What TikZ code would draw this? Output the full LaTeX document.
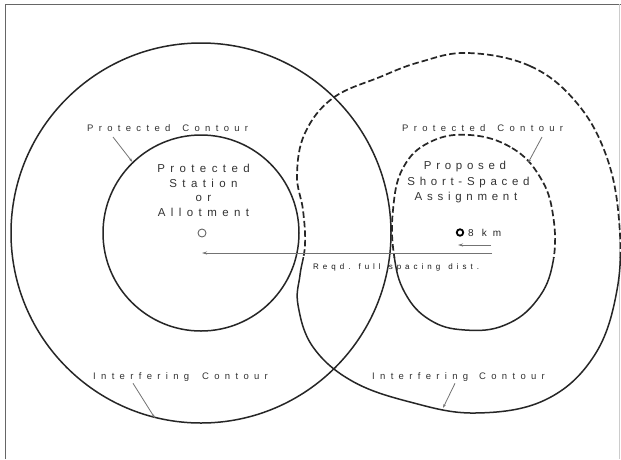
\documentclass[tikz,border=0pt]{standalone}
\usepackage{fontspec}
\setmainfont{Liberation Sans}
\usetikzlibrary{arrows.meta,calc}
\newcommand{\wgap}[1]{\hspace{#1}}
\begin{document}
\begin{tikzpicture}[x=1pt,y=-1pt,
  contour/.style={draw=black!85, line width=1.5pt},
  dcontour/.style={draw=black!85, line width=1.7pt, dash pattern=on 6.5pt off 3pt},
  arr/.style={draw=black!55, line width=0.8pt, -{Stealth[length=5pt,width=3pt]}},
  leader/.style={draw=black!55, line width=0.8pt, -{Stealth[length=4pt,width=2.5pt]}},
  lbl/.style={inner sep=0, text=black!80, anchor=base west,
    font=\fontsize{9.5}{11}\selectfont\addfontfeature{LetterSpace=56}},
  stn/.style={inner sep=0, text=black!80, anchor=base,
    font=\fontsize{11.5}{13}\selectfont\addfontfeature{LetterSpace=47}},
  prop/.style={inner sep=0, text=black!80, anchor=base,
    font=\fontsize{11.5}{13}\selectfont\addfontfeature{LetterSpace=41}},
  small/.style={inner sep=0, text=black!90, anchor=base west,
    font=\fontsize{8}{9}\selectfont\addfontfeature{LetterSpace=50}},
  ring/.style={circle, inner sep=0}
]
\fill[white] (0,0) rectangle (621,459);
\useasboundingbox (0,0) rectangle (621,459);
% frame
\draw[black!60, line width=0.8pt] (5.5,459) -- (5.5,4) -- (621,4);
\draw[black!20, line width=0.6pt] (619.5,4) -- (619.5,459);

% left contours
\node[ring, contour, minimum size=380pt] (bigL) at (201,233) {};
\node[ring, contour, minimum size=196pt] (innerL) at (201,233) {};
\node[ring, draw=black!60, line width=0.9pt, minimum size=8pt] (station) at (202,233) {};

% right contours
\def\router{plot[smooth cycle, tension=0.65] coordinates {
 (468,53) (530,66) (576,102) (606,155) (619,220) (617,290) (594,356)
 (545,400) (475,413) (410,402) (352,381) (313,347) (298,305) (300,275)
 (305,245) (303,210) (297,175) (305,133) (333,98) (380,77) (420,62)}}
\def\rinner{plot[smooth cycle, tension=0.7] coordinates {
 (470,135) (512,148) (540,177) (553,215) (553,262) (537,300) (505,325)
 (465,330) (430,320) (405,293) (394,255) (393,210) (403,168) (430,142)}}
\begin{scope}
  \clip (280,0) rectangle (621,257);
  \draw[dcontour] \router;
  \draw[dcontour] \rinner;
\end{scope}
\begin{scope}
  \clip (280,257) rectangle (621,459);
  \draw[contour] \router;
  \draw[contour] \rinner;
\end{scope}
\coordinate (rinP) at (528,163);
\coordinate (routP) at (443,408);

% labels
\node[lbl] (tPL) at (87,131.7) {Protected\wgap{12pt}Contour};
\node[lbl] (tPR) at (402,131.5) {Protected\wgap{12pt}Contour};
\node[lbl] (tIL) at (93,379.3) {Interfering\wgap{13pt}Contour};
\node[lbl] (tIR) at (372,379.3) {Interfering\wgap{11pt}Contour};

\node[stn] (s1) at (203.5,172.7) {Protected};
\node[stn] (s2) at (203.5,187.7) {Station};
\node[stn] (s3) at (203.5,201.5) {or};
\node[stn] (s4) at (203.5,216) {Allotment};

\node[prop] (p1) at (465,169.3) {Proposed};
\node[prop] (p2) at (468.5,185) {Short-Spaced};
\node[prop] (p3) at (466,200.7) {Assignment};

% leaders
\draw[leader] ($(tPL.base west)+(26,5.3)$) -- (innerL.134);
\draw[leader] ($(tPR.base west)+(140,5.5)$) -- (rinP);
\draw[leader] ($(tIL.base west)+(40,4)$) -- (bigL.256);
\draw[leader] ($(tIR.base west)+(83,4)$) -- (routP);

% proposed site and distance
\node[ring, draw=black, line width=1.8pt, minimum size=6.5pt] (omark) at (460,232.5) {};
\node[inner sep=0, anchor=base west, text=black!85,
  font=\fontsize{10}{12}\selectfont\addfontfeature{LetterSpace=60}] (km) at (468,236.5) {8\wgap{8pt}km};
\coordinate (sa1) at (491,245);
\coordinate (sa2) at (458,245);
\draw[arr] (sa1) -- (sa2);
\coordinate (dstart) at (492,253);
\draw[arr] (dstart) -- (station.center |- dstart);
\node[small] (reqd) at (313,269) {Reqd.\wgap{8pt}full\wgap{8pt}spacing\wgap{8pt}dist.};
\end{tikzpicture}
\end{document}
